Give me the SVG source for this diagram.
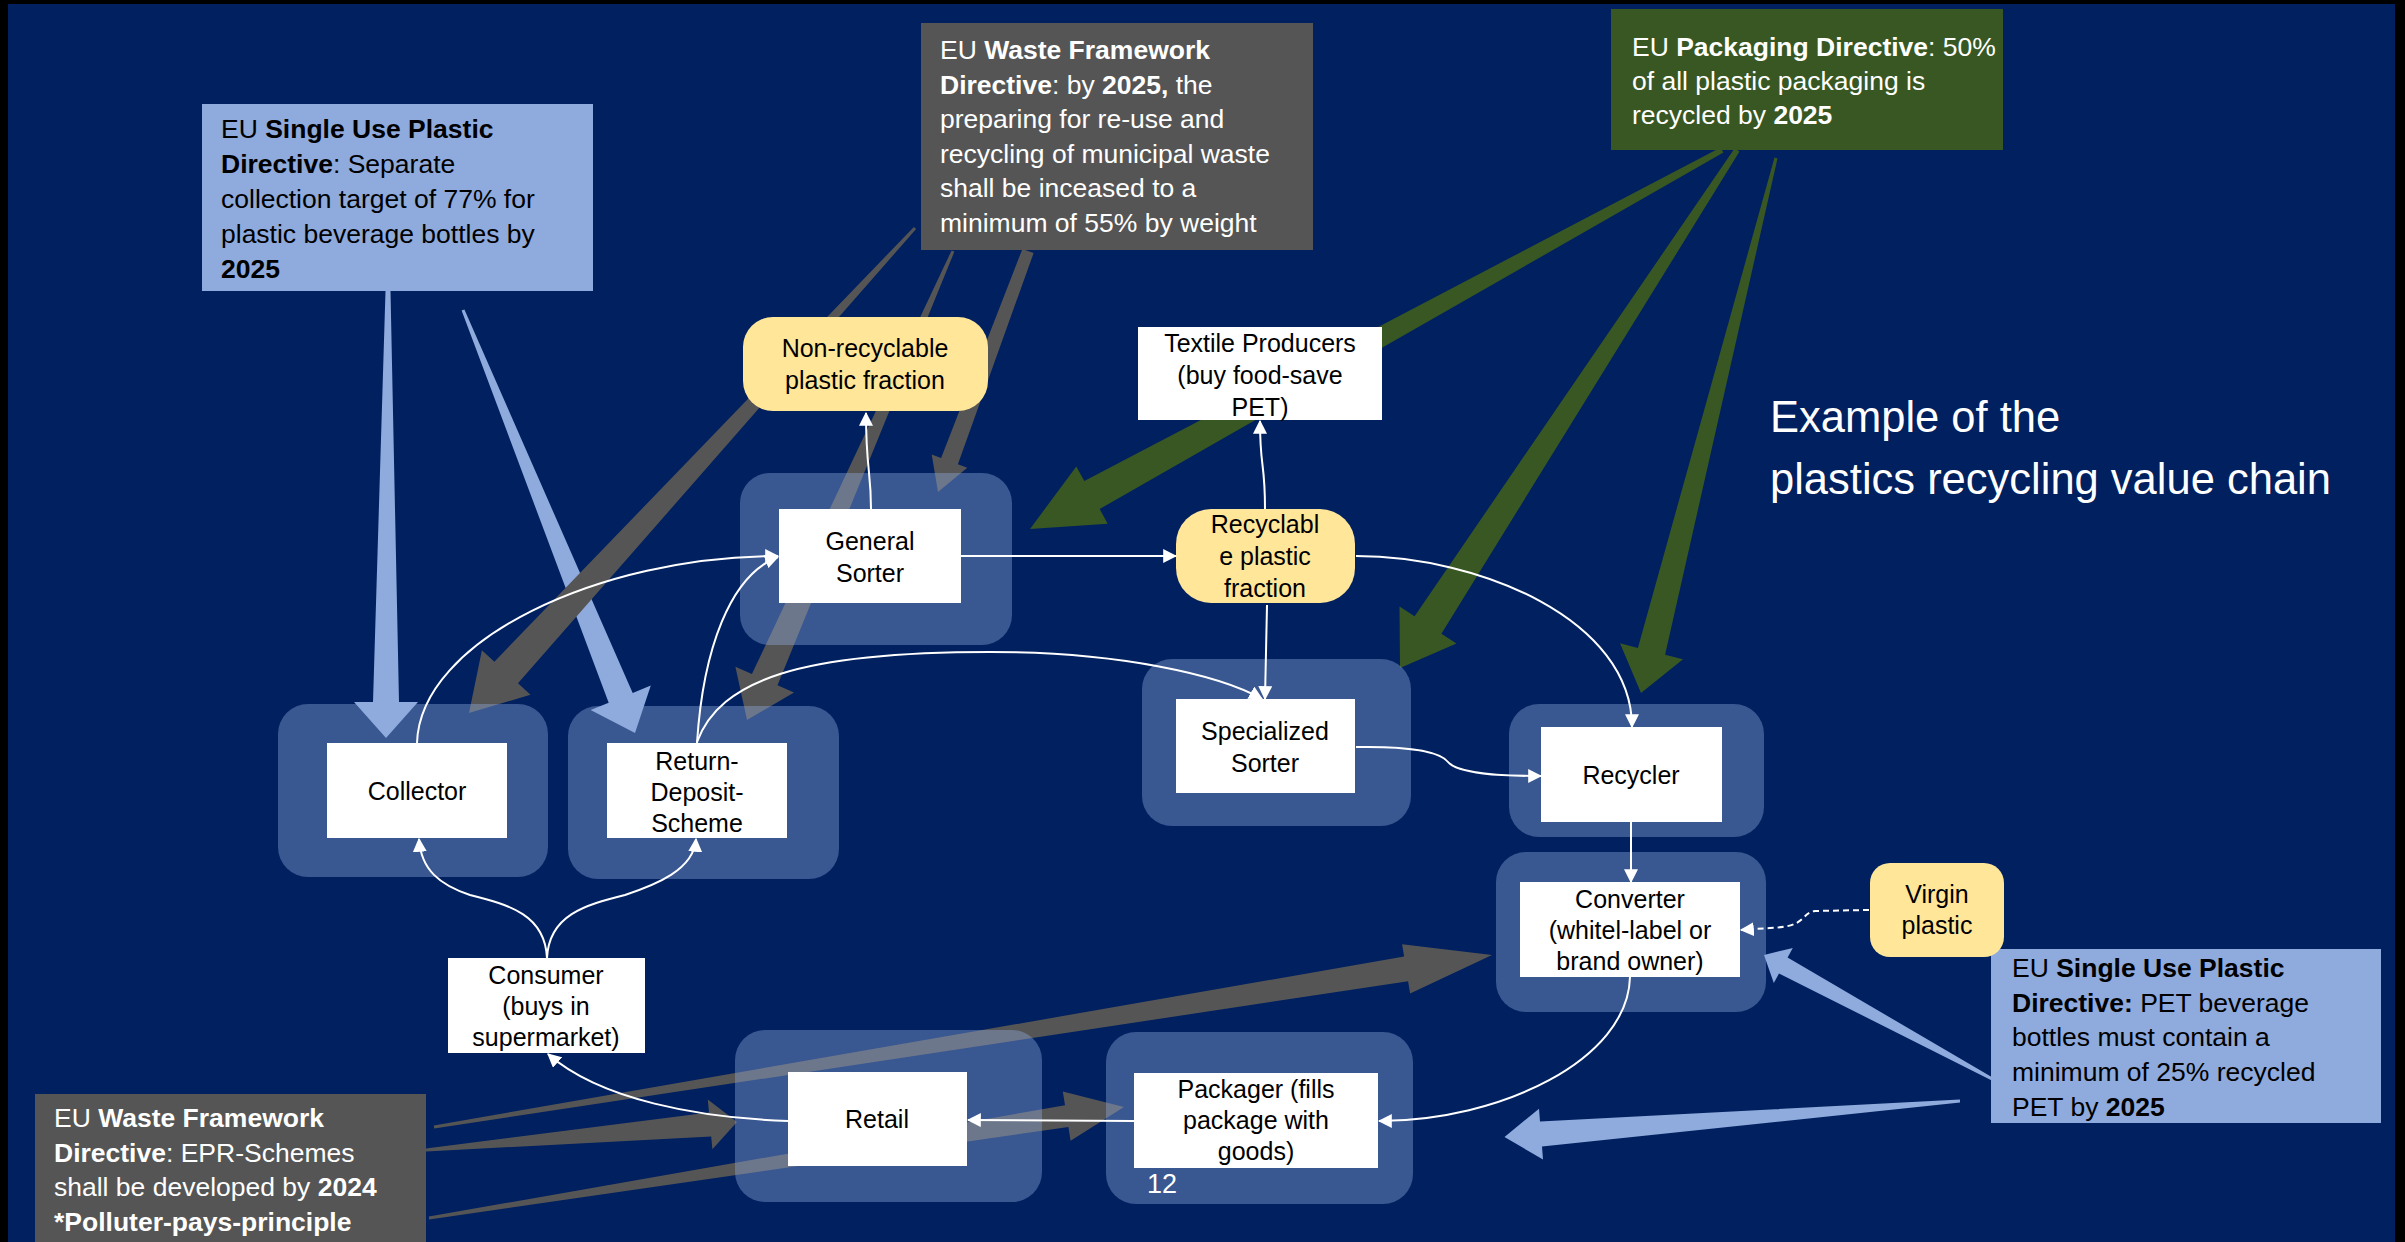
<svg xmlns="http://www.w3.org/2000/svg" width="2405" height="1242" viewBox="0 0 2405 1242">
  <defs>
    <marker id="ah" viewBox="0 0 12 12" refX="11" refY="6" markerWidth="14" markerHeight="14" markerUnits="userSpaceOnUse" orient="auto">
      <path d="M0,0 L12,6 L0,12 z" fill="#ffffff"/>
    </marker>
    <style>
      .bg { fill: #002060; }
      .pol-blue { fill: #8FAADC; }
      .pol-gray { fill: #555555; }
      .pol-green { fill: #385723; }
      .grp { fill: #8FAADC; fill-opacity: 0.4; }
      .box { fill: #ffffff; }
      .frac { fill: #FFE699; }
      .lbl { font-family: "Liberation Sans", Arial, sans-serif; font-size: 25px; fill: #000000; text-anchor: middle; }
      .note { font-family: "Liberation Sans", Arial, sans-serif; font-size: 26.5px; }
      .dark { fill: #000000; }
      .light { fill: #ffffff; }
      .b { font-weight: bold; }
      .title { font-family: "Liberation Sans", Arial, sans-serif; font-size: 43.5px; fill: #ffffff; }
      .flow { fill: none; stroke: #ffffff; stroke-width: 2; marker-end: url(#ah); }
      .dash { stroke-dasharray: 6 4; }
    </style>
  </defs>

  <!-- slide background -->
  <rect x="0" y="0" width="2405" height="1242" fill="#000000"/>
  <rect class="bg" x="8" y="4" width="2387" height="1238"/>

  <!-- tapered policy arrows -->
  <g id="policy-arrows">
    <polygon class="pol-blue" points="385.5,291 390.5,291 399,702 418,702 386,738 354,702 373,702"/>
    <polygon class="pol-blue" points="461.6,310.6 608.7,702.7 590.6,710 635,733 650.8,685.6 632.7,692.9 464.4,309.4"/>
    <polygon class="pol-gray" points="913.9,227 494.4,661.7 481.9,650.2 469,713 530.5,694.8 518,683.3 916.1,229"/>
    <polygon class="pol-gray" points="951.6,250.4 751.9,674.1 735.4,666.8 747,720 794,692.6 777.5,685.3 954.4,251.6"/>
    <polygon class="pol-gray" points="1022.4,248.9 941.1,458 931.7,454.5 938,492 967.3,467.7 957.9,464.2 1033.6,253.1"/>
    <polygon class="pol-gray" points="433.8,1125.5 1404.1,956.6 1402.1,944.2 1492,955 1410.1,993.6 1408.1,981.2 434.2,1128.5"/>
    <polygon class="pol-gray" points="425.9,1148.5 709,1112.4 707.8,1099.5 737,1122 712.4,1149.3 711.2,1136.4 426.1,1151.5"/>
    <polygon class="pol-gray" points="428.8,1216.5 1065,1105.2 1062.8,1091.4 1124,1107 1070.6,1140.8 1068.4,1127 429.2,1219.5"/>
    <polygon class="pol-green" points="1720.6,147.4 1084.3,481.1 1076.3,466.4 1030,529 1107.7,523.8 1099.7,509.1 1723.4,152.6"/>
    <polygon class="pol-green" points="1734.5,148.4 1414.6,616.3 1399.5,606.5 1400,668 1456.5,643.5 1441.4,633.7 1739.5,151.6"/>
    <polygon class="pol-green" points="1774.5,157.6 1637.9,647.9 1620,643.3 1641,693 1683,659.3 1665.1,654.7 1777.5,158.4"/>
    <polygon class="pol-blue" points="1994.7,1078.7 1787.6,957.6 1792.8,947.9 1764,955 1773.8,983.1 1779,973.4 1993.3,1081.3"/>
    <polygon class="pol-blue" points="1959.9,1099.5 1540,1121.6 1539,1108.7 1504.5,1137 1543,1159.5 1542,1146.6 1960.1,1102.5"/>
  </g>

  <!-- policy notes -->
  <g id="sup-collection">
    <rect class="pol-blue" x="202" y="104" width="391" height="187"/>
    <text class="note dark" x="221" y="138">EU <tspan class="b">Single Use Plastic</tspan></text>
    <text class="note dark" x="221" y="173"><tspan class="b">Directive</tspan>: Separate</text>
    <text class="note dark" x="221" y="208">collection target of 77% for</text>
    <text class="note dark" x="221" y="243">plastic beverage bottles by</text>
    <text class="note dark b" x="221" y="278">2025</text>
  </g>

  <g id="wfd-recycling">
    <rect class="pol-gray" x="921" y="23" width="392" height="227"/>
    <text class="note light" x="940" y="59">EU <tspan class="b">Waste Framework</tspan></text>
    <text class="note light" x="940" y="94"><tspan class="b">Directive</tspan>: by <tspan class="b">2025,</tspan> the</text>
    <text class="note light" x="940" y="128">preparing for re-use and</text>
    <text class="note light" x="940" y="163">recycling of municipal waste</text>
    <text class="note light" x="940" y="197">shall be inceased to a</text>
    <text class="note light" x="940" y="232">minimum of 55% by weight</text>
  </g>

  <g id="packaging-directive">
    <rect class="pol-green" x="1611" y="9" width="392" height="141"/>
    <text class="note light" x="1632" y="56">EU <tspan class="b">Packaging Directive</tspan>: 50%</text>
    <text class="note light" x="1632" y="90">of all plastic packaging is</text>
    <text class="note light" x="1632" y="124">recycled by <tspan class="b">2025</tspan></text>
  </g>

  <g id="sup-recycled-content">
    <rect class="pol-blue" x="1991" y="949" width="390" height="174"/>
    <text class="note dark" x="2012" y="977">EU <tspan class="b">Single Use Plastic</tspan></text>
    <text class="note dark" x="2012" y="1012"><tspan class="b">Directive:</tspan> PET beverage</text>
    <text class="note dark" x="2012" y="1046">bottles must contain a</text>
    <text class="note dark" x="2012" y="1081">minimum of 25% recycled</text>
    <text class="note dark" x="2012" y="1116">PET by <tspan class="b">2025</tspan></text>
  </g>

  <g id="wfd-epr">
    <rect class="pol-gray" x="35" y="1094" width="391" height="148"/>
    <text class="note light" x="54" y="1127">EU <tspan class="b">Waste Framework</tspan></text>
    <text class="note light" x="54" y="1162"><tspan class="b">Directive</tspan>: EPR-Schemes</text>
    <text class="note light" x="54" y="1196">shall be developed by <tspan class="b">2024</tspan></text>
    <text class="note light b" x="54" y="1231">*Polluter-pays-principle</text>
  </g>

  <!-- value chain nodes -->
  <g id="non-recyclable">
    <rect class="frac" x="743" y="317" width="245" height="94" rx="30"/>
    <text class="lbl" x="865" y="357">Non-recyclable</text>
    <text class="lbl" x="865" y="389">plastic fraction</text>
  </g>

  <g id="textile-producers">
    <rect class="box" x="1138" y="327" width="244" height="93"/>
    <text class="lbl" x="1260" y="352">Textile Producers</text>
    <text class="lbl" x="1260" y="384">(buy food-save</text>
    <text class="lbl" x="1260" y="416">PET)</text>
  </g>

  <g id="general-sorter">
    <rect class="grp" x="740" y="473" width="272" height="172" rx="30"/>
    <rect class="box" x="779" y="509" width="182" height="94"/>
    <text class="lbl" x="870" y="550">General</text>
    <text class="lbl" x="870" y="582">Sorter</text>
  </g>

  <g id="recyclable-fraction">
    <rect class="frac" x="1176" y="509" width="179" height="94" rx="35"/>
    <text class="lbl" x="1265" y="533">Recyclabl</text>
    <text class="lbl" x="1265" y="565">e plastic</text>
    <text class="lbl" x="1265" y="597">fraction</text>
  </g>

  <g id="collector">
    <rect class="grp" x="278" y="704" width="270" height="173" rx="30"/>
    <rect class="box" x="327" y="743" width="180" height="95"/>
    <text class="lbl" x="417" y="800">Collector</text>
  </g>

  <g id="return-deposit">
    <rect class="grp" x="568" y="706" width="271" height="173" rx="30"/>
    <rect class="box" x="607" y="743" width="180" height="95"/>
    <text class="lbl" x="697" y="770">Return-</text>
    <text class="lbl" x="697" y="801">Deposit-</text>
    <text class="lbl" x="697" y="832">Scheme</text>
  </g>

  <g id="specialized-sorter">
    <rect class="grp" x="1142" y="659" width="269" height="167" rx="30"/>
    <rect class="box" x="1176" y="699" width="179" height="94"/>
    <text class="lbl" x="1265" y="740">Specialized</text>
    <text class="lbl" x="1265" y="772">Sorter</text>
  </g>

  <g id="recycler">
    <rect class="grp" x="1509" y="704" width="255" height="133" rx="30"/>
    <rect class="box" x="1541" y="727" width="181" height="95"/>
    <text class="lbl" x="1631" y="784">Recycler</text>
  </g>

  <g id="converter">
    <rect class="grp" x="1496" y="852" width="270" height="160" rx="30"/>
    <rect class="box" x="1520" y="882" width="220" height="95"/>
    <text class="lbl" x="1630" y="908">Converter</text>
    <text class="lbl" x="1630" y="939">(whitel-label or</text>
    <text class="lbl" x="1630" y="970">brand owner)</text>
  </g>

  <g id="virgin-plastic">
    <rect class="frac" x="1870" y="863" width="134" height="94" rx="20"/>
    <text class="lbl" x="1937" y="903">Virgin</text>
    <text class="lbl" x="1937" y="934">plastic</text>
  </g>

  <g id="consumer">
    <rect class="box" x="448" y="958" width="197" height="95"/>
    <text class="lbl" x="546" y="984">Consumer</text>
    <text class="lbl" x="546" y="1015">(buys in</text>
    <text class="lbl" x="546" y="1046">supermarket)</text>
  </g>

  <g id="retail">
    <rect class="grp" x="735" y="1030" width="307" height="172" rx="30"/>
    <rect class="box" x="788" y="1072" width="179" height="94"/>
    <text class="lbl" x="877" y="1128">Retail</text>
  </g>

  <g id="packager">
    <rect class="grp" x="1106" y="1032" width="307" height="172" rx="30"/>
    <rect class="box" x="1134" y="1073" width="244" height="95"/>
    <text class="lbl" x="1256" y="1098">Packager (fills</text>
    <text class="lbl" x="1256" y="1129">package with</text>
    <text class="lbl" x="1256" y="1160">goods)</text>
  </g>

  <!-- material flows -->
  <g id="flows">
    <path class="flow" d="M871,509 C871,470 866,470 866,413"/>
    <path class="flow" d="M961,556 L1176,556"/>
    <path class="flow" d="M1265,509 C1265,460 1260,470 1260,421"/>
    <path class="flow" d="M1267,605 L1265,699"/>
    <path class="flow" d="M1356,556 C1480,556 1632,620 1632,727"/>
    <path class="flow" d="M1356,747 C1410,746 1440,752 1448,762 C1458,774 1500,776 1541,776"/>
    <path class="flow" d="M1631,822 L1631,882"/>
    <path class="flow dash" d="M1869,910 L1815,911 C1800,913 1808,927 1770,928 L1741,930"/>
    <path class="flow" d="M1630,977 C1628,1060 1500,1121 1379,1121"/>
    <path class="flow" d="M1134,1121 L968,1120"/>
    <path class="flow" d="M788,1121 C700,1118 600,1100 548,1054"/>
    <path class="flow" d="M547,958 C545,915 510,905 470,895 C440,885 421,870 419,839"/>
    <path class="flow" d="M547,958 C549,915 585,905 625,895 C655,885 694,870 696,839"/>
    <path class="flow" d="M417,743 C420,640 600,556 778,556"/>
    <path class="flow" d="M697,743 C703,650 730,575 778,557"/>
    <path class="flow" d="M697,742 C720,680 800,652 990,652 C1120,652 1220,675 1262,699"/>
  </g>

  <!-- heading and page number -->
  <g id="heading">
    <text class="title" x="1770" y="432">Example of the</text>
    <text class="title" x="1770" y="494">plastics recycling value chain</text>
  </g>
  <text x="1147" y="1193" font-family="Liberation Sans, Arial, sans-serif" font-size="27" fill="#ffffff">12</text>
</svg>
